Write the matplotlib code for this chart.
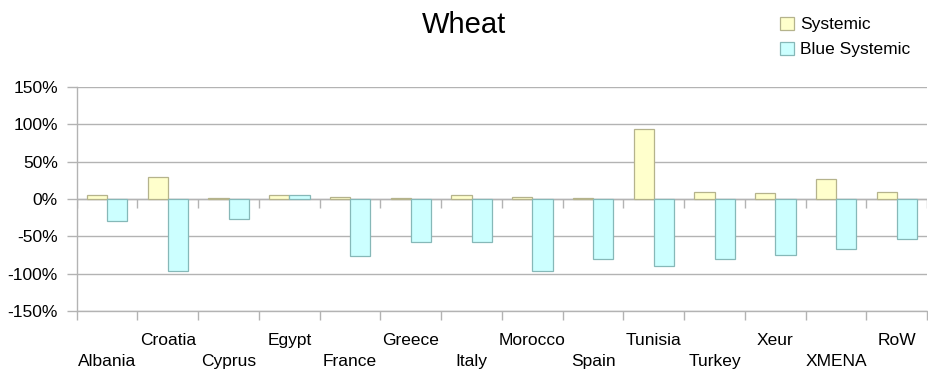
import matplotlib
matplotlib.use("Agg")
import matplotlib.pyplot as plt
import numpy as np

plt.rcParams['font.family'] = ['Liberation Sans', 'DejaVu Sans']

# Wheat: change by region, in percent
regions = ["Albania", "Croatia", "Cyprus", "Egypt", "France", "Greece", "Italy",
           "Morocco", "Spain", "Tunisia", "Turkey", "Xeur", "XMENA", "RoW"]
systemic = [5, 30, 1, 6, 2.5, 1, 5, 2.5, 1, 94, 10, 7.5, 27, 9]
blue_systemic = [-30, -97, -27, 6, -76, -58, -57, -96, -80, -90, -80, -75, -67, -53]
y_ticks = [-150, -100, -50, 0, 50, 100, 150]
y_tick_labels = [f"{v}%" for v in y_ticks]

GRID = "#b3b3b3"
SYS_FACE, SYS_EDGE = "#ffffcc", "#b5b38c"
BLUE_FACE, BLUE_EDGE = "#ccffff", "#86b8b8"
FS = 12.5

fig = plt.figure(figsize=(9.29, 3.76), dpi=100)
ax = fig.add_axes([0.0826, 0.1729, 0.9155, 0.5957])

x = np.arange(len(regions))
w = 1 / 3
ax.bar(x - w / 2, systemic, width=w, color=SYS_FACE, edgecolor=SYS_EDGE,
       linewidth=0.9, label="Systemic", zorder=3)
ax.bar(x + w / 2, blue_systemic, width=w, color=BLUE_FACE, edgecolor=BLUE_EDGE,
       linewidth=0.9, label="Blue Systemic", zorder=3)

ax.set_xlim(-0.5, len(regions) - 0.5)
ax.set_ylim(-150, 150)
ax.set_yticks(y_ticks)
ax.set_yticklabels(y_tick_labels)
ax.yaxis.grid(True, color=GRID, linewidth=1.0, zorder=0)
ax.tick_params(axis="y", length=7, width=1.0, color=GRID, labelsize=FS, pad=6.5)

# category labels, alternating between two rows
ax.set_xticks(x)
ax.set_xticklabels([("\n" if i % 2 == 0 else "") + r for i, r in enumerate(regions)])
for lab in ax.get_xticklabels():
    lab.set_linespacing(1.55)
ax.tick_params(axis="x", which="major", length=0, labelsize=FS, pad=15.5)

# boundary ticks below the plot and along the zero line
bounds = np.arange(len(regions) + 1) - 0.5
ax.set_xticks(bounds, minor=True)
ax.tick_params(axis="x", which="minor", length=6.5, width=1.0, color=GRID)
ax.vlines(bounds, -12.5, 0, colors=GRID, linewidth=1.0, zorder=2)
ax.axhline(0, color=GRID, linewidth=1.0, zorder=2)

for side in ("top", "right"):
    ax.spines[side].set_visible(False)
for side in ("left", "bottom"):
    ax.spines[side].set_color(GRID)
    ax.spines[side].set_linewidth(1.0)

fig.text(0.499, 0.9114, "Wheat", ha="center", va="baseline", fontsize=21)

fig.legend(loc="upper left", bbox_to_anchor=(0.8265, 0.988), frameon=False,
           fontsize=FS, handlelength=0.78, handleheight=0.78, handletextpad=0.4,
           labelspacing=0.55, borderaxespad=0.3)

fig.savefig("out.png", dpi=100)
